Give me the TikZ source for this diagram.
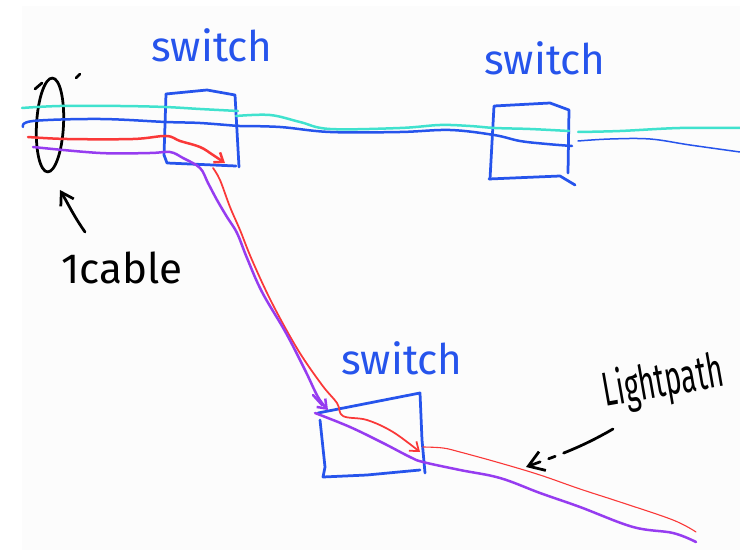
\documentclass[tikz,border=0pt]{standalone}
\usepackage{fontspec}
\setmainfont{Fira Sans}
\usetikzlibrary{arrows.meta,shapes.geometric}

\definecolor{swblue}{RGB}{38,84,236}
\definecolor{lcyan}{RGB}{64,226,206}
\definecolor{lred}{RGB}{250,56,56}
\definecolor{lpurple}{RGB}{150,60,240}
\definecolor{sheet}{RGB}{252,252,252}

\tikzset{
  pen/.style={line width=0.55mm, line cap=round, line join=round},
  swbox/.style={pen, draw=swblue},
  fibre/.style={pen, line width=0.5mm},
  thinfibre/.style={pen, line width=0.22mm},
  fibrehead/.style={-{Straight Barb[length=1.6mm,width=2.4mm]}},
  swlabel/.style={text=swblue, font=\fontsize{24}{28}\selectfont},
  handnote/.style={font=\fontsize{24}{28}\selectfont},
}

\begin{document}
\begin{tikzpicture}[x=0.2mm,y=-0.2mm]
  \useasboundingbox (0,0) rectangle (740,551);
  \fill[sheet] (22,6) rectangle (740,550);

  % the three switches
  \draw[swbox] (166,94) -- (207,90) -- (235,95) -- (239,167);
  \draw[swbox] (166,94) -- (164,155) -- (167,163) -- (236,166);
  \draw[swbox] (490,179) -- (494,106) -- (550,103) -- (569,110) -- (568,173);
  \draw[swbox] (489,179) -- (560,176) -- (575,185);
  \draw[swbox] (318,413) -- (420,393) -- (422,440) -- (425,473);
  \draw[swbox] (320,420) -- (325,467) -- (323,477) -- (367,475) -- (420,470);
  \node[swlabel] (sw1lbl) at (212,45) {switch};
  \node[swlabel] (sw2lbl) at (545,58) {switch};
  \node[swlabel] (sw3lbl) at (402,358) {switch};

  % the cable bundle
  \node[ellipse, draw, pen, minimum width=5.4mm, minimum height=18.8mm,
        inner sep=0pt, rotate=-3] (cable) at (50,125) {};
  \draw[pen] (35,89) -- (42,83);
  \draw[pen] (76,78) -- (80,74);
  \coordinate (cabletip) at (60,190);
  \node[handnote] (cablelbl) at (122,268) {1cable};
  \draw[pen, -{Straight Barb[length=2.4mm,width=3mm]}]
    (85,232) to[out=125,in=-60] (cabletip);

  % cyan fibre
  \draw[fibre, lcyan] plot[smooth, tension=0.6] coordinates
    {(22,108) (60,106) (120,106) (165,107) (200,109) (238,111)};
  \draw[fibre, lcyan] plot[smooth, tension=0.6] coordinates
    {(236,116) (270,115) (300,122) (330,129) (400,128) (440,125)
     (470,126) (495,128) (530,129) (569,131)};
  \draw[fibre, lcyan] plot[smooth, tension=0.6] coordinates
    {(578,132) (620,131) (680,128) (740,128)};

  % blue fibre
  \draw[fibre, swblue] plot[smooth, tension=0.6] coordinates
    {(23,127) (33,121) (100,119) (166,122) (200,123) (238,126)};
  \draw[fibre, swblue] plot[smooth, tension=0.6] coordinates
    {(238,126) (280,127) (330,132) (400,132) (450,130) (494,135)
     (520,141) (547,144) (572,146)};
  \draw[thinfibre, swblue, line width=0.3mm] plot[smooth, tension=0.6] coordinates
    {(578,141) (610,139) (650,139) (690,145) (740,152)};

  % red lightpath
  \draw[fibre, lred, fibrehead] plot[smooth, tension=0.6] coordinates
    {(28,137) (67,139) (133,139) (166,136) (180,141) (200,147)
     (213,155) (225,163)};
  \draw[fibre, lred, line width=0.35mm, fibrehead] plot[smooth, tension=0.6] coordinates
    {(213,168) (220,180) (230,207) (240,230) (252,260) (272,303)
     (298,350) (322,385) (337,403) (343,416) (367,420) (393,432)
     (420,452)};
  \draw[thinfibre, lred] plot[smooth, tension=0.6] coordinates
    {(423,447) (443,448) (460,452) (500,463) (540,475) (580,489)
     (620,502) (673,520) (696,532)};

  % purple lightpath
  \draw[fibre, lpurple, fibrehead] plot[smooth, tension=0.6] coordinates
    {(33,147) (100,153) (150,153) (170,152) (183,158) (200,168)
     (208,183) (217,200) (227,217) (237,233) (247,258) (262,292)
     (286,333) (305,370) (318,397) (328,410)};
  \draw[fibre, lpurple] (313,395) -- (322,405);
  \draw[fibre, lpurple] plot[smooth, tension=0.6] coordinates
    {(315,413) (350,427) (383,443) (410,457) (423,462) (460,470)
     (500,478) (540,493) (580,507) (633,527) (673,533) (696,542)};

  % annotation
  \node[rotate=10, yscale=1.7, font=\fontsize{16}{20}\selectfont]
    (pathlbl) at (663,383) {Lightpath};
  \coordinate (pathtip) at (526,467);
  \draw[pen, dash pattern={on 11mm off 1.8mm on 1.4mm off 1.8mm},
        -{Straight Barb[length=3mm,width=4mm]}]
    (613,429) to[out=-150,in=20] (pathtip);
\end{tikzpicture}
\end{document}
